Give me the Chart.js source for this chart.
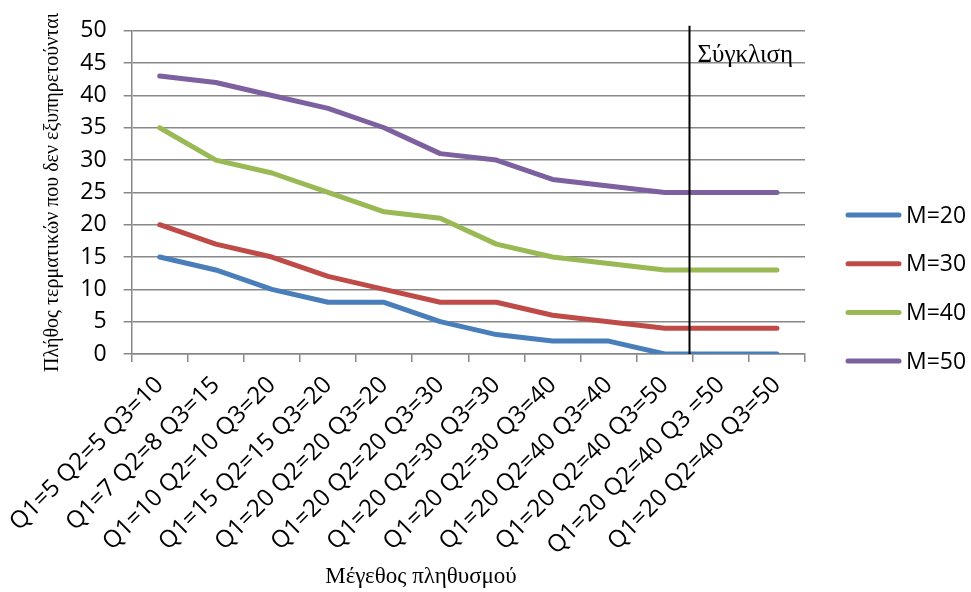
<!DOCTYPE html>
<html>
<head>
<meta charset="utf-8">
<script src="https://cdn.jsdelivr.net/npm/chart.js@4.4.1/dist/chart.umd.min.js"></script>
<style>
  html, body { margin: 0; padding: 0; background: #ffffff; }
  #wrap { width: 971px; height: 592px; position: relative; }
</style>
</head>
<body>
<div id="wrap"><canvas id="c" width="971" height="592"></canvas></div>
<script>
const categories = [
  "Q1=5 Q2=5 Q3=10",
  "Q1=7 Q2=8 Q3=15",
  "Q1=10 Q2=10 Q3=20",
  "Q1=15 Q2=15 Q3=20",
  "Q1=20 Q2=20 Q3=20",
  "Q1=20 Q2=20 Q3=30",
  "Q1=20 Q2=30 Q3=30",
  "Q1=20 Q2=30 Q3=40",
  "Q1=20 Q2=40 Q3=40",
  "Q1=20 Q2=40 Q3=50",
  "Q1=20 Q2=40 Q3 =50",
  "Q1=20 Q2=40 Q3=50"
];
const seriesNames = ["M=20", "M=30", "M=40", "M=50"];
const m20 = [15, 13, 10, 8, 8, 5, 3, 2, 2, 0, 0, 0];
const m30 = [20, 17, 15, 12, 10, 8, 8, 6, 5, 4, 4, 4];
const m40 = [35, 30, 28, 25, 22, 21, 17, 15, 14, 13, 13, 13];
const m50 = [43, 42, 40, 38, 35, 31, 30, 27, 26, 25, 25, 25];
const yTicks = [0, 5, 10, 15, 20, 25, 30, 35, 40, 45, 50];
const convergenceAt = 9.43;           // category position of the "Σύγκλιση" marker
const convergenceLabel = "Σύγκλιση";
const xTitle = "Μέγεθος πληθυσμού";
const yTitle = "Πλήθος τερματικών που δεν εξυπηρετούνται";

const colors = ["#4A7EBB", "#BE4B48", "#98B954", "#7D60A0"];
const seriesData = [m20, m30, m40, m50];
const SANS = "'Open Sans', 'Liberation Sans', sans-serif";
const SERIF = "'Liberation Serif', 'DejaVu Serif', serif";
const GRID = "#888888";

const datasets = seriesData.map((d, i) => ({
  label: seriesNames[i],
  data: d,
  borderColor: colors[i],
  backgroundColor: colors[i],
  borderWidth: 5,
  borderCapStyle: 'round',
  borderJoinStyle: 'round',
  pointRadius: 0,
  pointHoverRadius: 0,
  tension: 0,
  fill: false
}));

const overlay = {
  id: 'overlay',
  afterDatasetsDraw(chart) {
    const ctx = chart.ctx;
    const xs = chart.scales.x, ys = chart.scales.y;
    const ca = chart.chartArea;
    // convergence line
    const vx = Math.round(xs.getPixelForValue(convergenceAt)) + 0.5;
    ctx.save();
    ctx.strokeStyle = "#000000";
    ctx.lineWidth = 2;
    ctx.beginPath();
    ctx.moveTo(vx, ca.top - 5);
    ctx.lineTo(vx, ys.getPixelForValue(0));
    ctx.stroke();
    ctx.fillStyle = "#000000";
    ctx.font = "25px " + SERIF;
    ctx.textAlign = "left";
    ctx.textBaseline = "alphabetic";
    ctx.fillText(convergenceLabel, vx + 8, ca.top + 31);
    ctx.restore();
  },
  afterDraw(chart) {
    const ctx = chart.ctx;
    const ca = chart.chartArea;
    ctx.save();
    // legend
    const lx = ca.right + 41;
    const rowH = 48.7;
    const y0 = 215;
    chart.data.datasets.forEach((ds, i) => {
      const y = y0 + i * rowH;
      ctx.strokeStyle = ds.borderColor;
      ctx.lineWidth = 5;
      ctx.lineCap = 'round';
      ctx.beginPath();
      ctx.moveTo(lx + 2, y);
      ctx.lineTo(lx + 53, y);
      ctx.stroke();
      ctx.fillStyle = "#000000";
      ctx.font = "23px " + SANS;
      ctx.textAlign = "left";
      ctx.textBaseline = "middle";
      ctx.fillText(ds.label, lx + 60, y + 1);
    });
    // x axis title
    ctx.fillStyle = "#000000";
    ctx.font = "23px " + SERIF;
    ctx.textAlign = "center";
    ctx.textBaseline = "alphabetic";
    ctx.fillText(xTitle, 421, 583);
    ctx.restore();
  }
};

new Chart(document.getElementById('c'), {
  type: 'line',
  data: { labels: categories, datasets: datasets },
  options: {
    responsive: false,
    animation: false,
    events: [],
    layout: { padding: { top: 30, right: 166, bottom: 0, left: 0 } },
    plugins: {
      legend: { display: false },
      tooltip: { enabled: false },
      title: { display: false }
    },
    scales: {
      x: {
        type: 'category',
        offset: true,
        afterFit(scale) { scale.height = 238; },
        grid: {
          offset: true,
          drawOnChartArea: false,
          drawTicks: true,
          tickLength: 8,
          color: GRID,
          lineWidth: 1.5
        },
        border: { color: GRID, width: 1.5 },
        ticks: {
          color: "#000000",
          font: { family: SANS, size: 24 },
          maxRotation: 45,
          minRotation: 45,
          autoSkip: false,
          padding: 9
        }
      },
      y: {
        min: 0,
        max: 50,
        afterFit(scale) { scale.width = 126; },
        afterBuildTicks(scale) { scale.ticks = yTicks.map(v => ({ value: v })); },
        grid: {
          color: GRID,
          lineWidth: 1.5,
          drawTicks: true,
          tickLength: 8
        },
        border: { color: GRID, width: 1.5 },
        ticks: {
          color: "#000000",
          font: { family: SANS, size: 23 },
          padding: 17
        },
        title: {
          display: true,
          text: yTitle,
          color: "#000000",
          font: { family: SERIF, size: 20 },
          padding: { top: 35, bottom: 0 }
        }
      }
    }
  },
  plugins: [overlay]
});
</script>
</body>
</html>
